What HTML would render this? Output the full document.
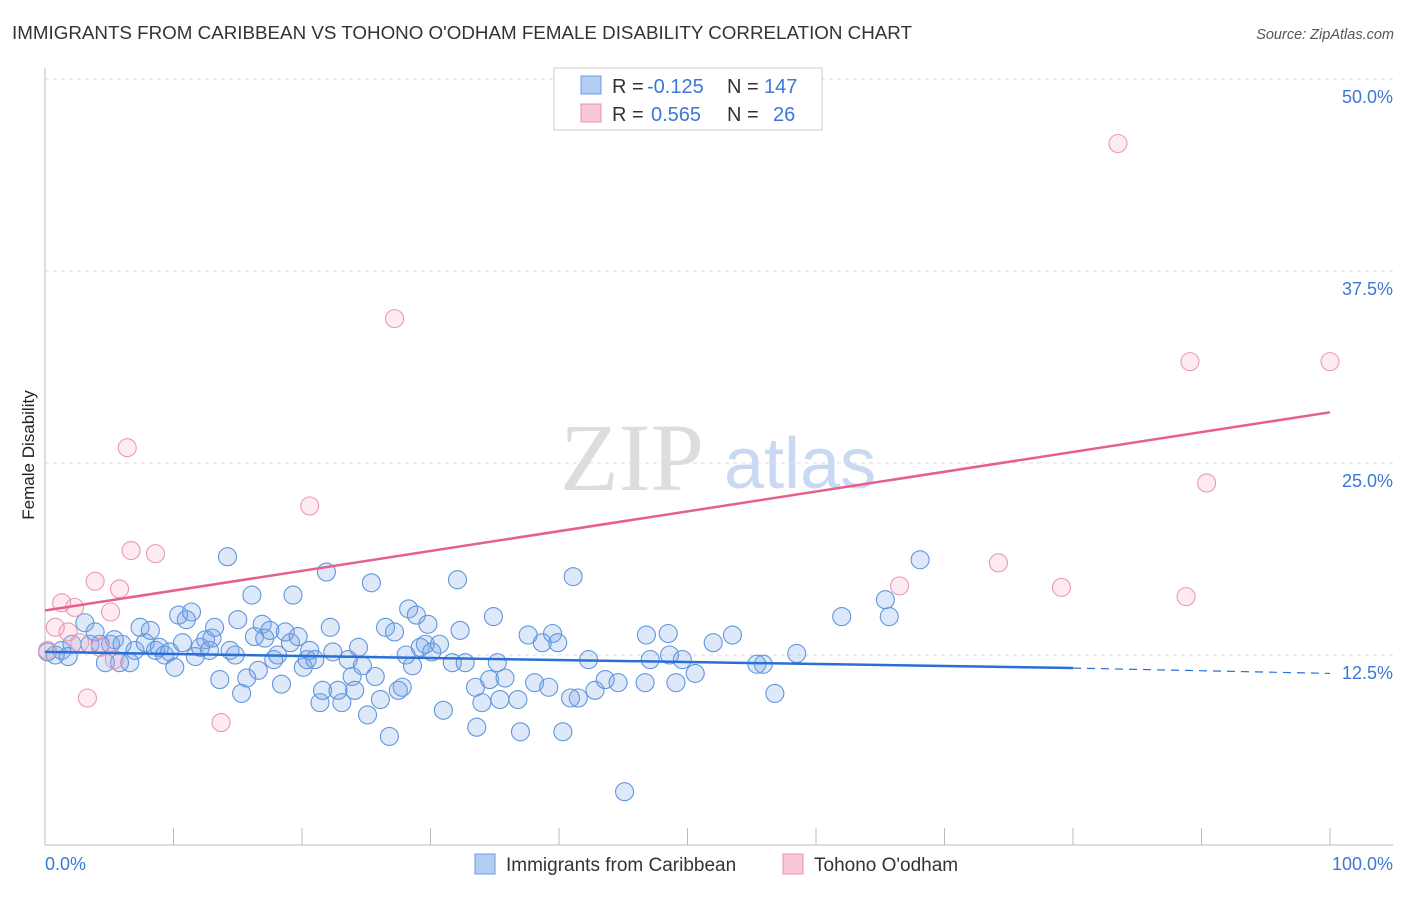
<!DOCTYPE html>
<html><head><meta charset="utf-8"><style>
body{margin:0;background:#fff;font-family:"Liberation Sans",sans-serif}
svg text{font-family:"Liberation Sans",sans-serif}
</style></head><body>
<svg id="chart" width="1406" height="892" viewBox="0 0 1406 892">
<text x="12" y="39" font-size="18.6" fill="#333" textLength="900" lengthAdjust="spacingAndGlyphs">IMMIGRANTS FROM CARIBBEAN VS TOHONO O'ODHAM FEMALE DISABILITY CORRELATION CHART</text>
<text x="1394" y="39" font-size="14.5" fill="#555" font-style="italic" text-anchor="end">Source: ZipAtlas.com</text>
<g>
<text x="632" y="490" font-size="96" fill="#ddd" text-anchor="middle" style="font-family:'Liberation Serif',serif">ZIP</text>
<text x="800" y="488" font-size="72" fill="#c9d9f2" text-anchor="middle">atlas</text>
</g>
<g id="grid"></g>
<g id="axes"></g>
<g id="marks"></g>
<text transform="translate(34,455) rotate(-90)" font-size="17" fill="#222" text-anchor="middle">Female Disability</text>
<g>
<rect x="554" y="68" width="268" height="62" fill="#fff" stroke="#ccc"/>
<rect x="581" y="76" width="20" height="18" fill="#b4cdf3" stroke="#6a9be0"/>
<rect x="581" y="104" width="20" height="18" fill="#f8c8d6" stroke="#e890aa"/>
<text x="612" y="93" font-size="20" fill="#333">R =</text>
<text x="647" y="93" font-size="20" fill="#3b78d8">-0.125</text>
<text x="727" y="93" font-size="20" fill="#333">N =</text>
<text x="764" y="93" font-size="20" fill="#3b78d8">147</text>
<text x="612" y="121" font-size="20" fill="#333">R =</text>
<text x="651" y="121" font-size="20" fill="#3b78d8">0.565</text>
<text x="727" y="121" font-size="20" fill="#333">N =</text>
<text x="773" y="121" font-size="20" fill="#3b78d8">26</text>
</g>
<g>
<rect x="475" y="854" width="20" height="20" fill="#b4cdf3" stroke="#6a9be0"/>
<text x="506" y="871" font-size="19" fill="#333">Immigrants from Caribbean</text>
<rect x="783" y="854" width="20" height="20" fill="#f8c8d6" stroke="#e890aa"/>
<text x="814" y="871" font-size="19" fill="#333">Tohono O'odham</text>
</g>
</svg>
<script>
const yTicks=[12.5,25,37.5,50];
const yTickLabels=["12.5%","25.0%","37.5%","50.0%"];
const xTickLabels=["0.0%","100.0%"];
const blueX=[0.2,0.8,1.3,1.8,2.1,3.1,3.5,3.9,4.3,4.7,5.1,5.4,5.8,6.0,6.6,7.0,7.4,7.8,8.2,8.6,8.9,9.3,9.7,10.1,10.4,10.7,11.0,11.4,11.7,12.1,12.5,12.8,13.0,13.2,13.6,14.2,14.4,14.8,15.0,15.3,15.7,16.1,16.3,16.6,16.9,17.1,17.5,17.8,18.1,18.4,18.7,19.1,19.3,19.7,20.1,20.4,20.6,21.0,21.4,21.6,21.9,22.2,22.4,22.8,23.1,23.6,23.9,24.1,24.4,24.7,25.1,25.4,25.7,26.1,26.5,26.8,27.2,27.5,27.8,28.1,28.3,28.6,28.9,29.2,29.6,29.8,30.1,30.7,31.0,31.7,32.1,32.3,32.7,33.5,33.6,34.0,34.6,34.9,35.2,35.4,35.8,36.8,37.0,37.6,38.1,38.7,39.2,39.5,39.9,40.3,40.9,41.1,41.5,42.3,42.8,43.6,44.6,45.1,46.7,46.8,47.1,48.5,48.6,49.1,49.6,50.6,52.0,53.5,55.4,55.9,56.8,58.5,62.0,65.4,65.7,68.1];
const blueY=[12.7,12.5,12.8,12.4,13.2,14.6,13.2,14.0,13.2,12.0,13.2,13.5,12.0,13.2,12.0,12.8,14.3,13.3,14.1,12.8,13.0,12.5,12.7,11.7,15.1,13.3,14.8,15.3,12.4,13.0,13.5,12.8,13.6,14.3,10.9,18.9,12.8,12.5,14.8,10.0,11.0,16.4,13.7,11.5,14.5,13.6,14.1,12.2,12.5,10.6,14.0,13.3,16.4,13.7,11.7,12.2,12.8,12.2,9.4,10.2,17.9,14.3,12.7,10.2,9.4,12.2,11.1,10.2,13.0,11.8,8.6,17.2,11.1,9.6,14.3,7.2,14.0,10.2,10.4,12.5,15.5,11.8,15.1,13.0,13.2,14.5,12.7,13.2,8.9,12.0,17.4,14.1,12.0,10.4,7.8,9.4,10.9,15.0,12.0,9.6,11.0,9.6,7.5,13.8,10.7,13.3,10.4,13.9,13.3,7.5,9.7,17.6,9.7,12.2,10.2,10.9,10.7,3.6,10.7,13.8,12.2,13.9,12.5,10.7,12.2,11.3,13.3,13.8,11.9,11.9,10.0,12.6,15.0,16.1,15.0,18.7];
const pinkX=[0.2,0.8,1.3,1.8,2.3,2.7,3.3,3.9,4.3,5.1,5.4,5.8,6.4,6.7,8.6,13.7,20.6,27.2,66.5,74.2,79.1,83.5,88.8,89.1,90.4,100];
const pinkY=[12.8,14.3,15.9,14.0,15.6,13.3,9.7,17.3,13.0,15.3,12.2,16.8,26.0,19.3,19.1,8.1,22.2,34.4,17.0,18.5,16.9,45.8,16.3,31.6,23.7,31.6];
const blueTrend=[12.7,11.65,80,11.3];
const pinkTrend=[15.4,28.3];
const X0=45,X1=1330,Y0=847,PX=192/12.5;
const sx=v=>X0+(X1-X0)*v/100, sy=v=>Y0-v*PX;
const NS="http://www.w3.org/2000/svg";
function mk(tag,attrs,parent){const e=document.createElementNS(NS,tag);for(const k in attrs)e.setAttribute(k,attrs[k]);parent.appendChild(e);return e;}
const grid=document.getElementById('grid'),axes=document.getElementById('axes'),marks=document.getElementById('marks');
yTicks.forEach((t,i)=>{
 const g=mk('line',{x1:45,x2:1393,y1:sy(t),y2:sy(t),stroke:'#ddd','stroke-dasharray':'4,4'},grid);
 
 
 const l=mk('text',{x:1393,y:sy(t)+24,'font-size':18,fill:'#3b78d8','text-anchor':'end'},axes);
 l.textContent=yTickLabels[i];
 
 
});
const xa=mk('line',{x1:45,x2:1393,y1:845,y2:845,stroke:'#bbb'},axes);


const ya=mk('line',{x1:45,x2:45,y1:68,y2:845,stroke:'#bbb'},axes);


for(let i=0;i<=10;i++){
 const t=mk('line',{x1:sx(i*10),x2:sx(i*10),y1:828,y2:845,stroke:'#bbb'},axes);
 
 
}
const xl0=mk('text',{x:45,y:870,'font-size':18,fill:'#3b78d8'},axes);xl0.textContent=xTickLabels[0];


const xl1=mk('text',{x:1393,y:870,'font-size':18,fill:'#3b78d8','text-anchor':'end'},axes);xl1.textContent=xTickLabels[1];


blueX.forEach((x,i)=>{
 const c=mk('circle',{cx:sx(x),cy:sy(blueY[i]),r:9,fill:'rgba(120,165,230,0.25)',stroke:'#6196de','stroke-width':1.1},marks);
 
 
});
pinkX.forEach((x,i)=>{
 const c=mk('circle',{cx:sx(x),cy:sy(pinkY[i]),r:9,fill:'rgba(245,165,190,0.22)',stroke:'#eb98b0','stroke-width':1.1},marks);
 
 
});
const bl=mk('line',{x1:sx(0),y1:sy(blueTrend[0]),x2:sx(blueTrend[2]),y2:sy(blueTrend[1]),stroke:'#2a6fd6','stroke-width':2.5},marks);


const bd=mk('line',{x1:sx(blueTrend[2]),y1:sy(blueTrend[1]),x2:sx(100),y2:sy(blueTrend[3]),stroke:'#2a6fd6','stroke-width':1.2,'stroke-dasharray':'8,6'},marks);


const pl=mk('line',{x1:sx(0),y1:sy(pinkTrend[0]),x2:sx(100),y2:sy(pinkTrend[1]),stroke:'#e8608a','stroke-width':2.5},marks);


</script>
</body></html>
